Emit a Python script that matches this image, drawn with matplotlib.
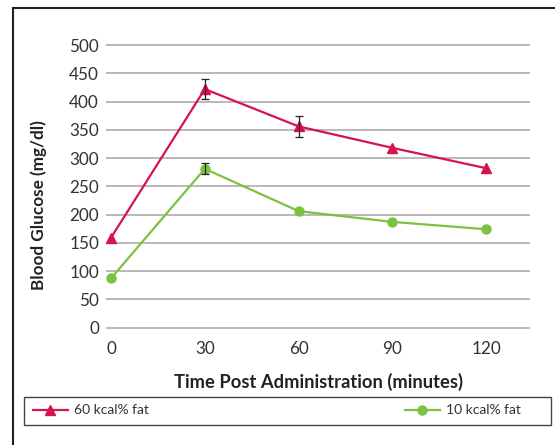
import matplotlib
matplotlib.use("Agg")
import matplotlib.pyplot as plt
from matplotlib.lines import Line2D
from matplotlib.patches import Rectangle
import numpy as np

plt.rcParams['font.family'] = ['Lato', 'DejaVu Sans']

time_min = [0, 30, 60, 90, 120]
hfd_60 = [159, 422, 356, 318, 282]
hfd_60_err = [0, 18, 18, 0, 0]
lfd_10 = [87, 281, 206, 187, 174]
lfd_10_err = [0, 10, 0, 0, 0]
y_ticks = [0, 50, 100, 150, 200, 250, 300, 350, 400, 450, 500]
x_ticks = [0, 30, 60, 90, 120]
label_60 = "60 kcal% fat"
label_10 = "10 kcal% fat"

W, H = 555, 445
fig = plt.figure(figsize=(W / 100, H / 100), dpi=100)
renderer = fig.canvas.get_renderer()

def fx(px):
    return px / W

def fy(py):
    return 1 - py / H

def fit(txt, target, axis='w'):
    bb = txt.get_window_extent(renderer=renderer)
    cur = bb.width if axis == 'w' else bb.height
    txt.set_fontsize(txt.get_fontsize() * target / cur)

# axes placement (pixels)
ax_l, ax_r, ax_t, ax_b = 106, 530, 43.9, 328.7
ax = fig.add_axes([fx(ax_l), fy(ax_b), fx(ax_r) - fx(ax_l), fy(ax_t) - fy(ax_b)])

red = '#d7134b'
green = '#7cc142'

ax.plot(time_min, hfd_60, color=red, lw=1.6, marker='^', ms=7, zorder=3, label=label_60)
ax.plot(time_min, lfd_10, color=green, lw=1.6, marker='o', ms=6.5, zorder=3, label=label_10)

for xs, ys, es in [(time_min, hfd_60, hfd_60_err), (time_min, lfd_10, lfd_10_err)]:
    xs = np.array(xs); ys = np.array(ys); es = np.array(es)
    m = es > 0
    ax.errorbar(xs[m], ys[m], yerr=es[m], fmt='none', ecolor='#222222',
                elinewidth=0.9, capsize=3, capthick=0.9, zorder=4)

ax.set_xlim(-1.6, 134)
ax.set_ylim(-2, 502)
ax.set_yticks(y_ticks)
ax.set_xticks(x_ticks)
ax.yaxis.grid(True, color='#a6a6a6', lw=1.1)
ax.set_axisbelow(True)
for s in ax.spines.values():
    s.set_visible(False)
ax.tick_params(length=0, labelsize=12.3, labelcolor='#333333')
ax.tick_params(axis='y', pad=5)
ax.tick_params(axis='x', pad=9)

xl = fig.text(fx(318.5), fy(381.5), "Time Post Administration (minutes)", ha='center', va='center',
              fontsize=12, fontweight='bold', color='#222222')
fit(xl, 287, 'w')
yl = fig.text(fx(38.5), fy(205), "Blood Glucose (mg/dl)", ha='center', va='center',
              rotation=90, fontsize=12, fontweight='bold', color='#222222')
fit(yl, 168, 'h')

# outer frame
fig.add_artist(Line2D([fx(13), fx(W + 5)], [fy(7.5), fy(7.5)], color='#222222', lw=1.5))
fig.add_artist(Line2D([fx(13), fx(13)], [fy(7.5), fy(H + 5)], color='#222222', lw=1.5))

# legend box
fig.add_artist(Rectangle((fx(24), fy(425)), fx(551) - fx(24), fy(397) - fy(425),
                         transform=fig.transFigure, fill=False, ec='#444444', lw=1.0))

h1, l1 = ax.get_legend_handles_labels()
leg1 = fig.legend([h1[0]], [l1[0]], loc='center left', bbox_to_anchor=(fx(33), fy(410.5)),
                  frameon=False, fontsize=10, handlelength=2.5, handletextpad=0.45,
                  borderpad=0, borderaxespad=0, labelcolor='#333333')
leg2 = fig.legend([h1[1]], [l1[1]], loc='center left', bbox_to_anchor=(fx(405), fy(410.5)),
                  frameon=False, fontsize=10, handlelength=2.5, handletextpad=0.45,
                  borderpad=0, borderaxespad=0, labelcolor='#333333')

fig.savefig('out.png', dpi=100)
